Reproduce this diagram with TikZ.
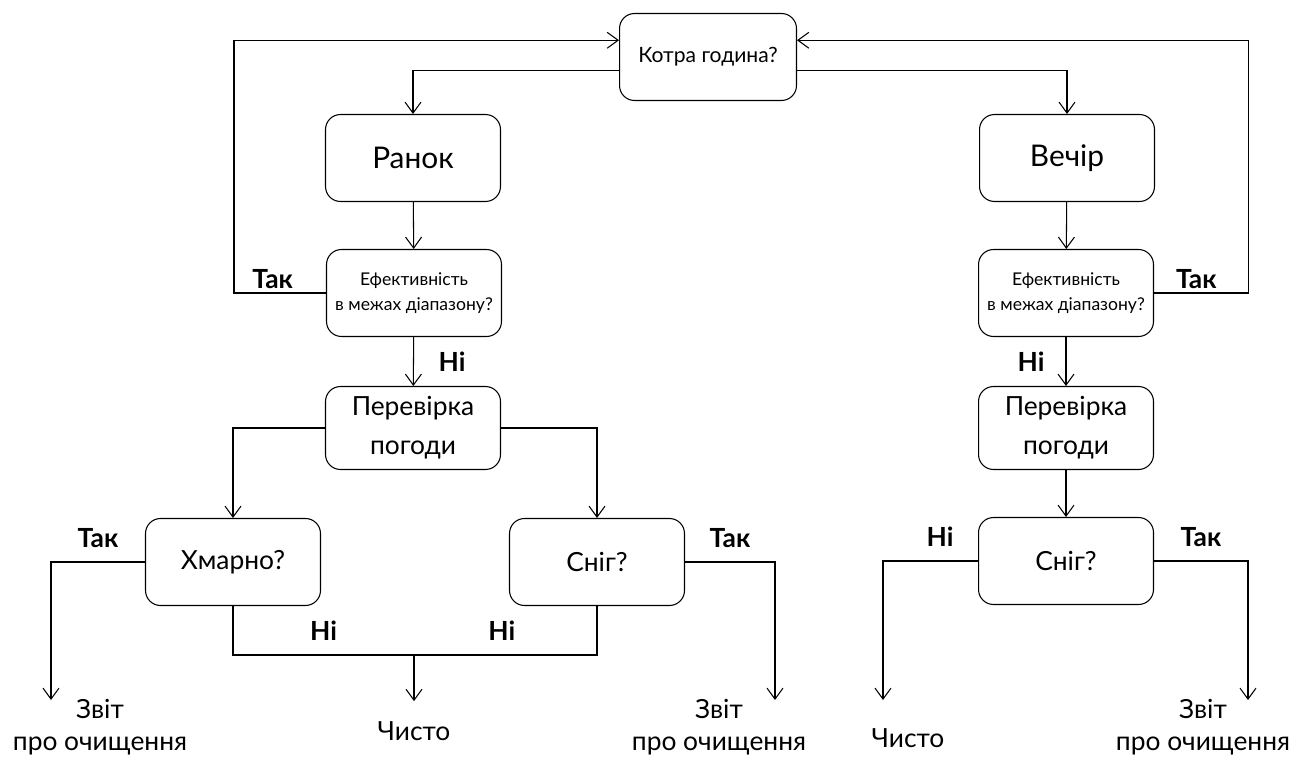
\documentclass[tikz,border=0pt]{standalone}
\usepackage{fontspec}
\setmainfont{Lato}
\usetikzlibrary{arrows.meta,calc}
\tikzset{
  box/.style={draw, rounded corners=0.3cm, line width=0.6pt, minimum width=3.5cm, minimum height=1.74cm, align=center, inner sep=1pt},
  arr/.style={line width=0.6pt, -{Straight Barb[length=2.2mm, width=3.2mm]}},
  conn/.style={line width=0.6pt},
  lbl/.style={font=\fontsize{15}{18}\selectfont\bfseries, inner sep=2pt},
  term/.style={align=center, font=\fontsize{15}{18}\selectfont, inner sep=0pt}
}
\begin{document}
\begin{tikzpicture}[x=0.02cm, y=-0.02cm]
      \useasboundingbox (0,0) rectangle (1297,757);

      \node [box, minimum width=3.54cm, font=\fontsize{12}{14}\selectfont] (top) at (708, 57) {Котра година?};
      \node [box, font=\fontsize{17}{20}\selectfont] (ranok) at (413, 158) {Ранок};
      \node [box, font=\fontsize{17}{20}\selectfont] (vechir) at (1067, 158) {Вечір};
      \node [box, font=\fontsize{10}{14}\selectfont] (effL) at (414, 293) {Ефективність\\в межах діапазону?};
      \node [box, font=\fontsize{10}{14}\selectfont] (effR) at (1066, 293) {Ефективність\\в межах діапазону?};
      \node [box, minimum height=1.66cm, font=\fontsize{15}{22}\selectfont] (perL) at (413, 428) {Перевірка\\погоди};
      \node [box, minimum height=1.66cm, font=\fontsize{15}{22}\selectfont] (perR) at (1066, 428) {Перевірка\\погоди};
      \node [box, font=\fontsize{15}{18}\selectfont] (hmar) at (233, 562) {Хмарно?};
      \node [box, font=\fontsize{15}{18}\selectfont] (snigL) at (597, 562) {Сніг?};
      \node [box, font=\fontsize{15}{18}\selectfont] (snigR) at (1066, 561) {Сніг?};

      \node [term] (zvit1) at (100, 727) {Звіт\\про очищення};
      \node [term] (chysto1) at (414, 731) {Чисто};
      \node [term] (zvit2) at (719, 727) {Звіт\\про очищення};
      \node [term] (chysto2) at (908, 738) {Чисто};
      \node [term] (zvit3) at (1203, 727) {Звіт\\про очищення};

      \coordinate (inL) at ($(top.north west)!0.31!(top.south west)$);
      \coordinate (inR) at ($(top.north east)!0.31!(top.south east)$);
      \coordinate (outL) at ($(top.north west)!0.65!(top.south west)$);
      \coordinate (outR) at ($(top.north east)!0.65!(top.south east)$);
      \coordinate (join) at (414, 655);
      \coordinate (end1) at (51, 700);
      \coordinate (end3) at (775, 700);
      \coordinate (end4) at (883, 700);
      \coordinate (end5) at (1248, 700);

      \draw [arr] (outL) -| (ranok);
      \draw [arr] (outR) -| (vechir);
      \draw [arr] (ranok) -- (effL);
      \draw [arr] (vechir) -- (effR);
      \draw [arr] (effL.west) -- ++(-92, 0) node [lbl, above, pos=0.58] {Так} |- (inL);
      \draw [arr] (effR.east) -- ++(94, 0) node [lbl, above, pos=0.45] {Так} |- (inR);
      \draw [arr] (effL) -- node [lbl, right, xshift=12pt] {Ні} (perL);
      \draw [arr] (effR) -- node [lbl, left, xshift=-10pt] {Ні} (perR);
      \draw [arr] (perL.west) -| (hmar);
      \draw [arr] (perL.east) -| (snigL);
      \draw [arr] (perR) -- (snigR);

      \draw [arr] (hmar.west) -| node [lbl, above, pos=0.25, yshift=6pt] {Так} (end1);
      \draw [arr] (snigL.east) -| node [lbl, above, pos=0.25, yshift=6pt] {Так} (end3);
      \draw [arr] (snigR.west) -| node [lbl, above, pos=0.2, yshift=6pt] {Ні} (end4);
      \draw [arr] (snigR.east) -| node [lbl, above, pos=0.25, yshift=6pt] {Так} (end5);
      \draw [conn] (hmar.south) |- node [lbl, above, pos=0.75, yshift=6pt] {Ні} (join) -| node [lbl, above, pos=0.24, yshift=6pt] {Ні} (snigL.south);
      \draw [arr, shorten >=0.4cm] (join) -- (chysto1.north);

    \end{tikzpicture}
\end{document}
